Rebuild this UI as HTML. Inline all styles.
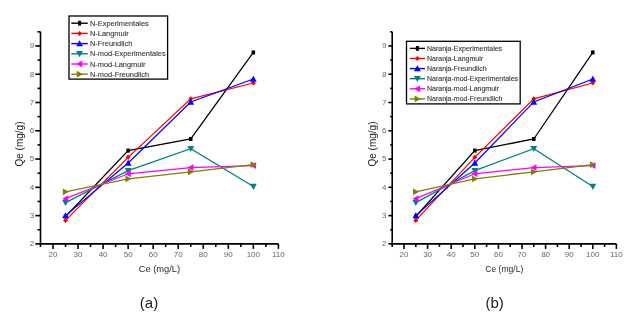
<!DOCTYPE html>
<html><head><meta charset="utf-8"><style>
html,body{margin:0;padding:0;background:#fff;width:640px;height:319px;overflow:hidden}
svg{display:block;filter:blur(0.3px)}
</style></head><body>
<svg width="640" height="319" viewBox="0 0 640 319">
<rect width="640" height="319" fill="#fff"/>
<g stroke="#000" stroke-width="1.6" fill="none">
<path d="M40.50 31.80V243.90H278.40"/>
<path d="M40.50 243.90h-5.20"/>
<path d="M40.50 229.76h-3.00"/>
<path d="M40.50 215.62h-5.20"/>
<path d="M40.50 201.48h-3.00"/>
<path d="M40.50 187.34h-5.20"/>
<path d="M40.50 173.20h-3.00"/>
<path d="M40.50 159.06h-5.20"/>
<path d="M40.50 144.92h-3.00"/>
<path d="M40.50 130.78h-5.20"/>
<path d="M40.50 116.64h-3.00"/>
<path d="M40.50 102.50h-5.20"/>
<path d="M40.50 88.36h-3.00"/>
<path d="M40.50 74.22h-5.20"/>
<path d="M40.50 60.08h-3.00"/>
<path d="M40.50 45.94h-5.20"/>
<path d="M40.50 31.80h-3.00"/>
<path d="M40.50 243.90v3"/>
<path d="M53.02 243.90v5"/>
<path d="M65.54 243.90v3"/>
<path d="M78.06 243.90v5"/>
<path d="M90.58 243.90v3"/>
<path d="M103.11 243.90v5"/>
<path d="M115.63 243.90v3"/>
<path d="M128.15 243.90v5"/>
<path d="M140.67 243.90v3"/>
<path d="M153.19 243.90v5"/>
<path d="M165.71 243.90v3"/>
<path d="M178.23 243.90v5"/>
<path d="M190.75 243.90v3"/>
<path d="M203.27 243.90v5"/>
<path d="M215.79 243.90v3"/>
<path d="M228.32 243.90v5"/>
<path d="M240.84 243.90v3"/>
<path d="M253.36 243.90v5"/>
<path d="M265.88 243.90v3"/>
<path d="M278.40 243.90v5"/>
</g>
<g font-family="Liberation Sans" font-size="8" fill="#666">
<text x="34.30" y="246.20" text-anchor="end">2</text>
<text x="34.30" y="217.92" text-anchor="end">3</text>
<text x="34.30" y="189.64" text-anchor="end">4</text>
<text x="34.30" y="161.36" text-anchor="end">5</text>
<text x="34.30" y="133.08" text-anchor="end">6</text>
<text x="34.30" y="104.80" text-anchor="end">7</text>
<text x="34.30" y="76.52" text-anchor="end">8</text>
<text x="34.30" y="48.24" text-anchor="end">9</text>
<text x="53.02" y="256.90" text-anchor="middle">20</text>
<text x="78.06" y="256.90" text-anchor="middle">30</text>
<text x="103.11" y="256.90" text-anchor="middle">40</text>
<text x="128.15" y="256.90" text-anchor="middle">50</text>
<text x="153.19" y="256.90" text-anchor="middle">60</text>
<text x="178.23" y="256.90" text-anchor="middle">70</text>
<text x="203.27" y="256.90" text-anchor="middle">80</text>
<text x="228.32" y="256.90" text-anchor="middle">90</text>
<text x="253.36" y="256.90" text-anchor="middle">100</text>
<text x="278.40" y="256.90" text-anchor="middle">110</text>
</g>
<text font-family="Liberation Sans" font-size="9.3" fill="#2a2a2a" transform="translate(159.45,272) scale(1,1)" text-anchor="middle">Ce (mg/L)</text>
<text font-family="Liberation Sans" font-size="10" fill="#222" transform="translate(22.50,144) rotate(-90)" text-anchor="middle">Qe (mg/g)</text>
<polyline points="65.54,216.47 128.15,150.58 190.75,138.98 253.36,52.44" fill="none" stroke="#000000" stroke-width="1.25"/>
<rect x="63.79" y="214.47" width="3.50" height="4.00" fill="#000000"/>
<rect x="126.40" y="148.58" width="3.50" height="4.00" fill="#000000"/>
<rect x="189.00" y="136.98" width="3.50" height="4.00" fill="#000000"/>
<rect x="251.61" y="50.44" width="3.50" height="4.00" fill="#000000"/>
<polyline points="65.54,220.43 128.15,157.36 190.75,98.82 253.36,82.99" fill="none" stroke="#ff0000" stroke-width="1.25"/>
<path d="M65.54 217.93L68.04 220.43L65.54 222.93L63.04 220.43Z" fill="#ff0000"/>
<path d="M128.15 154.86L130.65 157.36L128.15 159.86L125.65 157.36Z" fill="#ff0000"/>
<path d="M190.75 96.32L193.25 98.82L190.75 101.32L188.25 98.82Z" fill="#ff0000"/>
<path d="M253.36 80.49L255.86 82.99L253.36 85.49L250.86 82.99Z" fill="#ff0000"/>
<polyline points="65.54,215.62 128.15,163.02 190.75,101.93 253.36,79.03" fill="none" stroke="#0000ff" stroke-width="1.25"/>
<path d="M65.54 212.22L68.94 218.34L62.14 218.34Z" fill="#0000ff"/>
<path d="M128.15 159.62L131.55 165.74L124.75 165.74Z" fill="#0000ff"/>
<path d="M190.75 98.53L194.15 104.65L187.35 104.65Z" fill="#0000ff"/>
<path d="M253.36 75.63L256.76 81.75L249.96 81.75Z" fill="#0000ff"/>
<polyline points="65.54,202.61 128.15,170.65 190.75,148.60 253.36,186.49" fill="none" stroke="#008080" stroke-width="1.25"/>
<path d="M65.54 206.01L68.94 199.89L62.14 199.89Z" fill="#008080"/>
<path d="M128.15 174.05L131.55 167.93L124.75 167.93Z" fill="#008080"/>
<path d="M190.75 152.00L194.15 145.88L187.35 145.88Z" fill="#008080"/>
<path d="M253.36 189.89L256.76 183.77L249.96 183.77Z" fill="#008080"/>
<polyline points="65.54,198.65 128.15,173.77 190.75,167.54 253.36,165.56" fill="none" stroke="#ff00ff" stroke-width="1.25"/>
<path d="M62.14 198.65L68.26 195.25L68.26 202.05Z" fill="#ff00ff"/>
<path d="M124.75 173.77L130.87 170.37L130.87 177.17Z" fill="#ff00ff"/>
<path d="M187.35 167.54L193.47 164.14L193.47 170.94Z" fill="#ff00ff"/>
<path d="M249.96 165.56L256.08 162.16L256.08 168.96Z" fill="#ff00ff"/>
<polyline points="65.54,191.86 128.15,178.86 190.75,171.79 253.36,164.72" fill="none" stroke="#808000" stroke-width="1.25"/>
<path d="M68.94 191.86L62.82 188.46L62.82 195.26Z" fill="#808000"/>
<path d="M131.55 178.86L125.43 175.46L125.43 182.26Z" fill="#808000"/>
<path d="M194.15 171.79L188.03 168.39L188.03 175.19Z" fill="#808000"/>
<path d="M256.76 164.72L250.64 161.32L250.64 168.12Z" fill="#808000"/>
<rect x="69" y="16.0" width="98.6" height="63.099999999999994" fill="#fff" stroke="#000" stroke-width="1.3"/>
<path d="M71.3 23.20H87.8" stroke="#000000" stroke-width="1.4"/>
<rect x="78.05" y="20.80" width="3.00" height="4.80" fill="#000000"/>
<text font-family="Liberation Sans" font-size="7.4" fill="#333" stroke="#333" stroke-width="0.1" x="90" y="25.86">N-Experimentales</text>
<path d="M71.3 33.40H87.8" stroke="#ff0000" stroke-width="1.4"/>
<path d="M79.55 30.90L82.05 33.40L79.55 35.90L77.05 33.40Z" fill="#ff0000"/>
<text font-family="Liberation Sans" font-size="7.4" fill="#333" stroke="#333" stroke-width="0.1" x="90" y="36.06">N-Langmuir</text>
<path d="M71.3 43.60H87.8" stroke="#0000ff" stroke-width="1.4"/>
<path d="M79.55 40.20L82.95 46.32L76.15 46.32Z" fill="#0000ff"/>
<text font-family="Liberation Sans" font-size="7.4" fill="#333" stroke="#333" stroke-width="0.1" x="90" y="46.26">N-Freundlich</text>
<path d="M71.3 53.80H87.8" stroke="#008080" stroke-width="1.4"/>
<path d="M79.55 57.20L82.95 51.08L76.15 51.08Z" fill="#008080"/>
<text font-family="Liberation Sans" font-size="7.4" fill="#333" stroke="#333" stroke-width="0.1" x="90" y="56.46">N-mod-Experimentales</text>
<path d="M71.3 64.00H87.8" stroke="#ff00ff" stroke-width="1.4"/>
<path d="M76.15 64.00L82.27 60.60L82.27 67.40Z" fill="#ff00ff"/>
<text font-family="Liberation Sans" font-size="7.4" fill="#333" stroke="#333" stroke-width="0.1" x="90" y="66.66">N-mod-Langmuir</text>
<path d="M71.3 74.20H87.8" stroke="#808000" stroke-width="1.4"/>
<path d="M82.95 74.20L76.83 70.80L76.83 77.60Z" fill="#808000"/>
<text font-family="Liberation Sans" font-size="7.4" fill="#333" stroke="#333" stroke-width="0.1" x="90" y="76.86">N-mod-Freundlich</text>
<g stroke="#000" stroke-width="1.6" fill="none">
<path d="M392.20 31.80V243.90H616.40"/>
<path d="M392.20 243.90h-3.80"/>
<path d="M392.20 229.76h-2.00"/>
<path d="M392.20 215.62h-3.80"/>
<path d="M392.20 201.48h-2.00"/>
<path d="M392.20 187.34h-3.80"/>
<path d="M392.20 173.20h-2.00"/>
<path d="M392.20 159.06h-3.80"/>
<path d="M392.20 144.92h-2.00"/>
<path d="M392.20 130.78h-3.80"/>
<path d="M392.20 116.64h-2.00"/>
<path d="M392.20 102.50h-3.80"/>
<path d="M392.20 88.36h-2.00"/>
<path d="M392.20 74.22h-3.80"/>
<path d="M392.20 60.08h-2.00"/>
<path d="M392.20 45.94h-3.80"/>
<path d="M392.20 31.80h-2.00"/>
<path d="M392.20 243.90v3"/>
<path d="M404.00 243.90v5"/>
<path d="M415.80 243.90v3"/>
<path d="M427.60 243.90v5"/>
<path d="M439.40 243.90v3"/>
<path d="M451.20 243.90v5"/>
<path d="M463.00 243.90v3"/>
<path d="M474.80 243.90v5"/>
<path d="M486.60 243.90v3"/>
<path d="M498.40 243.90v5"/>
<path d="M510.20 243.90v3"/>
<path d="M522.00 243.90v5"/>
<path d="M533.80 243.90v3"/>
<path d="M545.60 243.90v5"/>
<path d="M557.40 243.90v3"/>
<path d="M569.20 243.90v5"/>
<path d="M581.00 243.90v3"/>
<path d="M592.80 243.90v5"/>
<path d="M604.60 243.90v3"/>
<path d="M616.40 243.90v5"/>
</g>
<g font-family="Liberation Sans" font-size="8" fill="#666">
<text x="386.36" y="246.20" text-anchor="end">2</text>
<text x="386.36" y="217.92" text-anchor="end">3</text>
<text x="386.36" y="189.64" text-anchor="end">4</text>
<text x="386.36" y="161.36" text-anchor="end">5</text>
<text x="386.36" y="133.08" text-anchor="end">6</text>
<text x="386.36" y="104.80" text-anchor="end">7</text>
<text x="386.36" y="76.52" text-anchor="end">8</text>
<text x="386.36" y="48.24" text-anchor="end">9</text>
<text x="404.00" y="256.90" text-anchor="middle">20</text>
<text x="427.60" y="256.90" text-anchor="middle">30</text>
<text x="451.20" y="256.90" text-anchor="middle">40</text>
<text x="474.80" y="256.90" text-anchor="middle">50</text>
<text x="498.40" y="256.90" text-anchor="middle">60</text>
<text x="522.00" y="256.90" text-anchor="middle">70</text>
<text x="545.60" y="256.90" text-anchor="middle">80</text>
<text x="569.20" y="256.90" text-anchor="middle">90</text>
<text x="592.80" y="256.90" text-anchor="middle">100</text>
<text x="616.40" y="256.90" text-anchor="middle">110</text>
</g>
<text font-family="Liberation Sans" font-size="9.3" fill="#2a2a2a" transform="translate(504.30,272) scale(0.92,1)" text-anchor="middle">Ce (mg/L)</text>
<text font-family="Liberation Sans" font-size="10" fill="#222" transform="translate(375.90,144) rotate(-90)" text-anchor="middle">Qe (mg/g)</text>
<polyline points="415.80,216.47 474.80,150.58 533.80,138.98 592.80,52.44" fill="none" stroke="#000000" stroke-width="1.25"/>
<rect x="414.05" y="214.47" width="3.50" height="4.00" fill="#000000"/>
<rect x="473.05" y="148.58" width="3.50" height="4.00" fill="#000000"/>
<rect x="532.05" y="136.98" width="3.50" height="4.00" fill="#000000"/>
<rect x="591.05" y="50.44" width="3.50" height="4.00" fill="#000000"/>
<polyline points="415.80,220.43 474.80,157.36 533.80,98.82 592.80,82.99" fill="none" stroke="#ff0000" stroke-width="1.25"/>
<path d="M415.80 217.93L418.30 220.43L415.80 222.93L413.30 220.43Z" fill="#ff0000"/>
<path d="M474.80 154.86L477.30 157.36L474.80 159.86L472.30 157.36Z" fill="#ff0000"/>
<path d="M533.80 96.32L536.30 98.82L533.80 101.32L531.30 98.82Z" fill="#ff0000"/>
<path d="M592.80 80.49L595.30 82.99L592.80 85.49L590.30 82.99Z" fill="#ff0000"/>
<polyline points="415.80,215.62 474.80,163.02 533.80,101.93 592.80,79.03" fill="none" stroke="#0000ff" stroke-width="1.25"/>
<path d="M415.80 212.22L419.20 218.34L412.40 218.34Z" fill="#0000ff"/>
<path d="M474.80 159.62L478.20 165.74L471.40 165.74Z" fill="#0000ff"/>
<path d="M533.80 98.53L537.20 104.65L530.40 104.65Z" fill="#0000ff"/>
<path d="M592.80 75.63L596.20 81.75L589.40 81.75Z" fill="#0000ff"/>
<polyline points="415.80,202.61 474.80,170.65 533.80,148.60 592.80,186.49" fill="none" stroke="#008080" stroke-width="1.25"/>
<path d="M415.80 206.01L419.20 199.89L412.40 199.89Z" fill="#008080"/>
<path d="M474.80 174.05L478.20 167.93L471.40 167.93Z" fill="#008080"/>
<path d="M533.80 152.00L537.20 145.88L530.40 145.88Z" fill="#008080"/>
<path d="M592.80 189.89L596.20 183.77L589.40 183.77Z" fill="#008080"/>
<polyline points="415.80,198.65 474.80,173.77 533.80,167.54 592.80,165.56" fill="none" stroke="#ff00ff" stroke-width="1.25"/>
<path d="M412.40 198.65L418.52 195.25L418.52 202.05Z" fill="#ff00ff"/>
<path d="M471.40 173.77L477.52 170.37L477.52 177.17Z" fill="#ff00ff"/>
<path d="M530.40 167.54L536.52 164.14L536.52 170.94Z" fill="#ff00ff"/>
<path d="M589.40 165.56L595.52 162.16L595.52 168.96Z" fill="#ff00ff"/>
<polyline points="415.80,191.86 474.80,178.86 533.80,171.79 592.80,164.72" fill="none" stroke="#808000" stroke-width="1.25"/>
<path d="M419.20 191.86L413.08 188.46L413.08 195.26Z" fill="#808000"/>
<path d="M478.20 178.86L472.08 175.46L472.08 182.26Z" fill="#808000"/>
<path d="M537.20 171.79L531.08 168.39L531.08 175.19Z" fill="#808000"/>
<path d="M596.20 164.72L590.08 161.32L590.08 168.12Z" fill="#808000"/>
<rect x="406.5" y="41.3" width="113.70000000000005" height="62.60000000000001" fill="#fff" stroke="#000" stroke-width="1.3"/>
<path d="M409.8 48.40H425" stroke="#000000" stroke-width="1.4"/>
<rect x="415.90" y="46.00" width="3.00" height="4.80" fill="#000000"/>
<text font-family="Liberation Sans" font-size="7.0" fill="#333" stroke="#333" stroke-width="0.1" x="427" y="50.92">Naranja-Experimentales</text>
<path d="M409.8 58.50H425" stroke="#ff0000" stroke-width="1.4"/>
<path d="M417.40 56.00L419.90 58.50L417.40 61.00L414.90 58.50Z" fill="#ff0000"/>
<text font-family="Liberation Sans" font-size="7.0" fill="#333" stroke="#333" stroke-width="0.1" x="427" y="61.02">Naranja-Langmuir</text>
<path d="M409.8 68.60H425" stroke="#0000ff" stroke-width="1.4"/>
<path d="M417.40 65.20L420.80 71.32L414.00 71.32Z" fill="#0000ff"/>
<text font-family="Liberation Sans" font-size="7.0" fill="#333" stroke="#333" stroke-width="0.1" x="427" y="71.12">Naranja-Freundlich</text>
<path d="M409.8 78.70H425" stroke="#008080" stroke-width="1.4"/>
<path d="M417.40 82.10L420.80 75.98L414.00 75.98Z" fill="#008080"/>
<text font-family="Liberation Sans" font-size="7.0" fill="#333" stroke="#333" stroke-width="0.1" x="427" y="81.22">Naranja-mod-Experimentales</text>
<path d="M409.8 88.80H425" stroke="#ff00ff" stroke-width="1.4"/>
<path d="M414.00 88.80L420.12 85.40L420.12 92.20Z" fill="#ff00ff"/>
<text font-family="Liberation Sans" font-size="7.0" fill="#333" stroke="#333" stroke-width="0.1" x="427" y="91.32">Naranja-mod-Langmuir</text>
<path d="M409.8 98.90H425" stroke="#808000" stroke-width="1.4"/>
<path d="M420.80 98.90L414.68 95.50L414.68 102.30Z" fill="#808000"/>
<text font-family="Liberation Sans" font-size="7.0" fill="#333" stroke="#333" stroke-width="0.1" x="427" y="101.42">Naranja-mod-Freundlich</text>
<text font-family="Liberation Sans" font-size="15" fill="#222" x="149" y="308" text-anchor="middle">(a)</text>
<text font-family="Liberation Sans" font-size="15" fill="#222" x="494.7" y="308" text-anchor="middle">(b)</text>
</svg>
</body></html>
